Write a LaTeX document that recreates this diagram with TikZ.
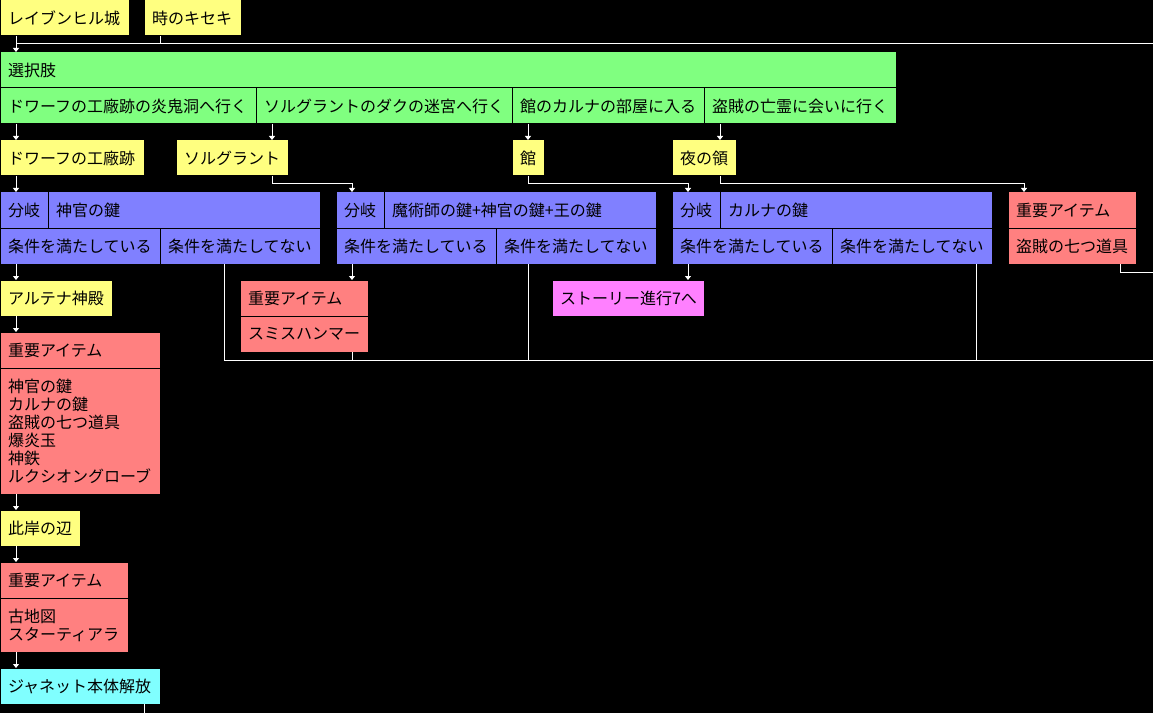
\documentclass[tikz,border=0pt]{standalone}
\usepackage{fontspec}
\setmainfont{Noto Sans CJK JP}
\usetikzlibrary{arrows.meta,calc}
\definecolor{spotyellow}{HTML}{FFFF80}
\definecolor{pickgreen}{HTML}{80FF80}
\definecolor{forkblue}{HTML}{8080FF}
\definecolor{lootred}{HTML}{FF8080}
\definecolor{eventpink}{HTML}{FF80FF}
\definecolor{finalecyan}{HTML}{80FFFF}
\begin{document}
\begin{tikzpicture}[x=0.75pt, y=-0.75pt,
  every node/.style = {draw=black, line width=0.75pt, anchor=north west,
    inner xsep=6pt, inner ysep=0pt, outer sep=0pt, align=left,
    font=\fontsize{12pt}{13.5pt}\selectfont},
  sz/.style 2 args = {text width=0.75pt*(#1-16), minimum height=0.75pt*#2},
  spot/.style   = {fill=spotyellow},
  pick/.style   = {fill=pickgreen},
  fork/.style   = {fill=forkblue},
  loot/.style   = {fill=lootred},
  event/.style  = {fill=eventpink},
  finale/.style = {fill=finalecyan},
  link/.style = {draw=white, line width=0.75pt, -{Triangle[width=4.5pt,length=3pt]}},
  wire/.style = {draw=white, line width=0.75pt}]
\useasboundingbox (0,0) rectangle (1153,713);
\fill[black] (-4,-4) rectangle (1157,717);
\node[spot, sz={129}{36}] (castle) at (0,0) {レイブンヒル城};
\node[spot, sz={97}{36}] (kiseki) at (144,0) {時のキセキ};
\node[pick, sz={896}{36}] (choice) at (0,52) {選択肢};
\node[pick, sz={256}{36}] (optA) at (0,88) {ドワーフの工廠跡の炎鬼洞へ行く};
\node[pick, sz={256}{36}] (optB) at (256,88) {ソルグラントのダクの迷宮へ行く};
\node[pick, sz={192}{36}] (optC) at (512,88) {館のカルナの部屋に入る};
\node[pick, sz={192}{36}] (optD) at (704,88) {盗賊の亡霊に会いに行く};
\node[spot, sz={144}{36}] (dwarf) at (0,140) {ドワーフの工廠跡};
\node[spot, sz={112}{36}] (sol) at (176,140) {ソルグラント};
\node[spot, sz={32}{36}] (yakata) at (512,140) {館};
\node[spot, sz={64}{36}] (yoru) at (672,140) {夜の領};
\node[fork, sz={48}{36}] (forkA) at (0,192) {分岐};
\node[fork, sz={272}{36}] (keyA) at (48,192) {神官の鍵};
\node[fork, sz={160}{36}] (yesA) at (0,228) {条件を満たしている};
\node[fork, sz={160}{36}] (noA) at (160,228) {条件を満たしてない};
\node[fork, sz={48}{36}] (forkB) at (336,192) {分岐};
\node[fork, sz={272}{36}] (keyB) at (384,192) {魔術師の鍵+神官の鍵+王の鍵};
\node[fork, sz={160}{36}] (yesB) at (336,228) {条件を満たしている};
\node[fork, sz={160}{36}] (noB) at (496,228) {条件を満たしてない};
\node[fork, sz={48}{36}] (forkC) at (672,192) {分岐};
\node[fork, sz={272}{36}] (keyC) at (720,192) {カルナの鍵};
\node[fork, sz={160}{36}] (yesC) at (672,228) {条件を満たしている};
\node[fork, sz={160}{36}] (noC) at (832,228) {条件を満たしてない};
\node[loot, sz={128}{36}] (lootD) at (1008,192) {重要アイテム};
\node[loot, sz={128}{36}] (lootDlist) at (1008,228) {盗賊の七つ道具};
\node[spot, sz={112}{36}] (altena) at (0,280) {アルテナ神殿};
\node[loot, sz={160}{36}] (lootA) at (0,332) {重要アイテム};
\node[loot, sz={160}{126}] (lootAlist) at (0,368) {神官の鍵\\カルナの鍵\\盗賊の七つ道具\\爆炎玉\\神鉄\\ルクシオングローブ};
\node[loot, sz={128}{36}] (lootB) at (240,280) {重要アイテム};
\node[loot, sz={128}{36}] (lootBlist) at (240,316) {スミスハンマー};
\node[event, sz={152}{36}] (story7) at (552,280) {ストーリー進行7へ};
\node[spot, sz={80}{36}] (higan) at (0,510) {此岸の辺};
\node[loot, sz={128}{36}] (lootC) at (0,562) {重要アイテム};
\node[loot, sz={128}{54}] (lootClist) at (0,598) {古地図\\スターティアラ};
\node[finale, sz={160}{36}] (janet) at (0,668) {ジャネット本体解放};
\coordinate (a1) at ($(castle.south west)+(16,0)$);
\coordinate (a2) at ($(kiseki.south west)+(16,0)$);
\coordinate (barL) at ($(a1)+(0,8)$);
\coordinate (barR) at ($(castle.south west)+(1153,8)$);
\coordinate (oA) at ($(optA.south west)+(16,0)$);
\coordinate (oB) at ($(optB.south west)+(16,0)$);
\coordinate (oC) at ($(optC.south west)+(16,0)$);
\coordinate (oD) at ($(optD.south west)+(16,0)$);
\coordinate (fB) at ($(forkB.north west)+(16,0)$);
\coordinate (fC) at ($(forkC.north west)+(16,0)$);
\coordinate (fD) at ($(lootD.north west)+(16,0)$);
\coordinate (nA) at ($(noA.south west)+(64,0)$);
\coordinate (nC) at ($(noC.south west)+(144,0)$);
\coordinate (bus) at ($(nA)+(0,96)$);
\coordinate (busR) at (bus -| barR);
\coordinate (dOut) at ($(lootDlist.south west)+(112,0)$);
\coordinate (jOut) at ($(janet.south west)+(144,0)$);
\draw[link] (a1) -- (a1 |- choice.north);
\draw[wire] (a2) -- (a2 |- barL);
\draw[wire] (barL) -- (barR);
\foreach \o/\t in {oA/dwarf, oB/sol, oC/yakata, oD/yoru}
  \draw[link] (\o) -- (\o |- \t.north);
\draw[link] (oA |- dwarf.south) -- (oA |- forkA.north);
\draw[link] (oB |- sol.south) -- ++(0,8) -| (fB);
\draw[link] (oC |- yakata.south) -- ++(0,8) -| (fC);
\draw[link] (oD |- yoru.south) -- ++(0,8) -| (fD);
\draw[link] (oA |- yesA.south) -- (oA |- altena.north);
\draw[link] (oA |- altena.south) -- (oA |- lootA.north);
\draw[link] (oA |- lootAlist.south) -- (oA |- higan.north);
\draw[link] (oA |- higan.south) -- (oA |- lootC.north);
\draw[link] (oA |- lootClist.south) -- (oA |- janet.north);
\draw[wire] (jOut) -- ++(0,9);
\draw[link] (fB |- yesB.south) -- (fB |- lootB.north);
\draw[link] (fC |- yesC.south) -- (fC |- story7.north);
\draw[wire] (nA) -- (bus) -- (busR);
\draw[wire] (fB |- lootBlist.south) -- (fB |- bus);
\draw[wire] (oC |- noB.south) -- (oC |- bus);
\draw[wire] (nC) -- (nC |- bus);
\draw[wire] (dOut) -- ++(0,8) -| ($(barR |- dOut)+(0,8)$);
\end{tikzpicture}
\end{document}
